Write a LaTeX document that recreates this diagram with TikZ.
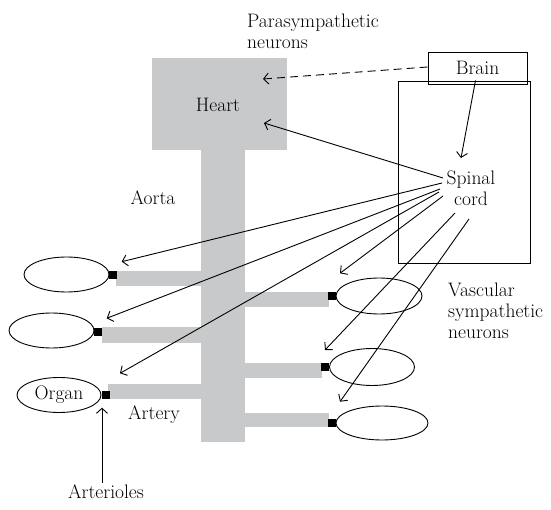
\documentclass[tikz,border=0pt]{standalone}
\usepackage{tikz}
\usetikzlibrary{arrows.meta, positioning, shapes.geometric}
\definecolor{vesselgray}{RGB}{200,201,203}
\tikzset{
  vessel/.style={
    fill=vesselgray,
    draw=none
  },
  organ/.style={
    draw=black,
    ellipse,
    line width=0.9pt,
    inner sep=0pt,
    minimum width=85pt,
    minimum height=35pt
  },
  arteriole/.style={
    fill=black,
    draw=none,
    inner sep=0pt,
    minimum size=8pt
  },
  frame/.style={
    draw=black,
    line width=0.9pt,
    inner sep=0pt
  },
  txt/.style={align=left, inner sep=0pt},
  arrow/.style={-{Straight Barb[length=5pt,width=11pt]}, line width=0.9pt},
  dashedarrow/.style={arrow, dash pattern=on 8pt off 5pt}
}

\begin{document}
\begin{tikzpicture}[
    x=1pt, y=-1pt,
    font=\fontsize{19.5}{21}\selectfont
]
\useasboundingbox (0,0) rectangle (551,510);

\fill[vessel] (152,58) rectangle (287,150);
\fill[vessel] (201,149) rectangle (245,442);
\fill[vessel] (116,271) rectangle (202,286);
\fill[vessel] (102,327) rectangle (202,343);
\fill[vessel] (108,384) rectangle (202,399);
\fill[vessel] (244,292) rectangle (329,307);
\fill[vessel] (244,363) rectangle (322,378);
\fill[vessel] (244,413) rectangle (329,427);

\node[organ] (l1) at (66.5,274.5) {};
\node[organ] (l2) at (51.5,330.5) {};
\node[organ, minimum width=84pt] (l3) at (59,395) {Organ};
\node[organ, minimum width=86pt, minimum height=36pt] (r1) at (379,296) {};
\node[organ, minimum height=37pt] (r2) at (372,367) {};
\node[organ, minimum width=92pt, minimum height=34pt] (r3) at (382,423) {};

\node[arteriole] (s1) at (113,275) {};
\node[arteriole] (s2) at (98,331.5) {};
\node[arteriole] (s3) at (105.5,394.5) {};
\node[arteriole] (t1) at (332,296) {};
\node[arteriole] (t2) at (325,367) {};
\node[arteriole] (t3) at (332,423) {};

\node[frame, minimum width=132pt, minimum height=182pt] (cordbox) at (464,172) {};
\node[frame, minimum width=99pt, minimum height=32pt] (brain) at (477.5,68) {Brain};
\node[align=center, inner sep=0pt] (spinal) at (471,188) {Spinal\\cord};

\node[txt, anchor=west] (para) at (247,31) {Parasympathetic\\neurons};
\node (heart) at (218,104.5) {Heart};
\node (aorta) at (153,198) {Aorta};
\node (artery) at (154,415) {Artery};
\node (arterioles) at (106,492) {Arterioles};
\node[txt, anchor=west] (vascular) at (448,311) {Vascular\\sympathetic\\neurons};

\coordinate (heartin1) at (263,79);
\coordinate (heartin2) at (264,123);
\coordinate (cordin) at (461,158);
\coordinate (cord0) at (443,178);
\coordinate (cord1) at (442,183);
\coordinate (cord2) at (440,189);
\coordinate (cord3) at (439,192);
\coordinate (cord4) at (443,196);
\coordinate (cord5) at (455,213);
\coordinate (cord6) at (469,219);
\coordinate (l1in) at (121.7,261.7);
\coordinate (l2in) at (106.7,318.3);
\coordinate (l3in) at (120,373.3);
\coordinate (r1in) at (340,273.3);
\coordinate (r2in) at (325,350);
\coordinate (r3in) at (340,401.7);
\coordinate (artfoot) at (102,483);

\draw[dashedarrow] ([yshift=1pt]brain.west) -- (heartin1);
\draw[arrow] ([xshift=-2pt,yshift=4pt]brain.south) -- (cordin);
\draw[arrow] (cord0) -- (heartin2);
\draw[arrow] (cord1) -- (l1in);
\draw[arrow] (cord2) -- (l2in);
\draw[arrow] (cord3) -- (l3in);
\draw[arrow] (cord4) -- (r1in);
\draw[arrow] (cord5) -- (r2in);
\draw[arrow] (cord6) -- (r3in);
\draw[arrow] (artfoot) -- (artfoot |- s3.south) [shorten >=9pt];
\end{tikzpicture}
\end{document}
